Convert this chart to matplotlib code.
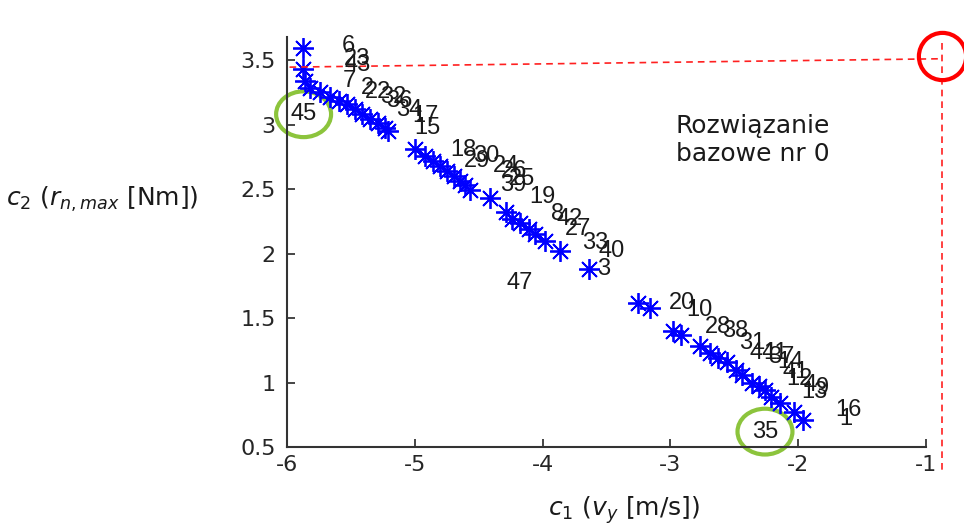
import matplotlib.pyplot as plt
from matplotlib.patches import Ellipse

plt.rcParams['font.family'] = ['DejaVu Sans']
plt.rcParams['mathtext.fontset'] = 'dejavusans'

# solutions (c1, c2)
pts_x = [-5.875, -5.875, -5.86, -5.82, -5.74, -5.66, -5.59, -5.53, -5.47, -5.41,
         -5.35, -5.29, -5.23, -5.21,
         -5.00, -4.92, -4.86, -4.80, -4.75, -4.69, -4.65, -4.61, -4.57, -4.41,
         -4.29, -4.24, -4.18, -4.11, -4.06, -3.98, -3.86, -3.64,
         -3.25, -3.16, -2.98, -2.92, -2.77, -2.69, -2.63, -2.56, -2.49, -2.44,
         -2.36, -2.31, -2.26, -2.21, -2.14, -2.03, -1.96]
pts_y = [3.59, 3.43, 3.34, 3.28, 3.25, 3.21, 3.18, 3.16, 3.12, 3.08,
         3.04, 3.01, 2.97, 2.95,
         2.81, 2.76, 2.72, 2.68, 2.64, 2.60, 2.56, 2.53, 2.49, 2.43,
         2.32, 2.27, 2.24, 2.19, 2.15, 2.10, 2.02, 1.88,
         1.62, 1.58, 1.40, 1.37, 1.28, 1.23, 1.19, 1.16, 1.10, 1.06,
         1.00, 0.97, 0.94, 0.89, 0.84, 0.77, 0.71]

# solution numbers and where they are written
lab_text = ['6', '23', '43', '7', '2', '22', '32', '36', '34', '17', '15',
            '18', '29', '30', '24', '26', '25', '39', '19', '8', '42', '27', '33', '40', '3', '47',
            '20', '10', '28', '38', '31', '44', '11', '37', '14', '41', '12', '4', '9', '13', '16', '1']
lab_x = [-5.52, -5.45, -5.45, -5.51, -5.37, -5.29, -5.17, -5.12, -5.04, -4.92, -4.90,
         -4.62, -4.51, -4.44, -4.29, -4.22, -4.16, -4.23, -4.00, -3.88, -3.79, -3.72, -3.59, -3.46, -3.52, -4.18,
         -2.91, -2.77, -2.63, -2.49, -2.36, -2.28, -2.18, -2.13, -2.06, -2.02, -1.99, -1.91, -1.81, -1.87, -1.61, -1.63]
lab_y = [3.61, 3.51, 3.46, 3.34, 3.28, 3.25, 3.21, 3.18, 3.11, 3.07, 2.97,
         2.80, 2.72, 2.76, 2.68, 2.64, 2.58, 2.53, 2.44, 2.31, 2.27, 2.19, 2.08, 2.02, 1.88, 1.77,
         1.62, 1.56, 1.43, 1.40, 1.31, 1.23, 1.23, 1.20, 1.16, 1.08, 1.03, 0.98, 0.96, 0.93, 0.79, 0.72]

# highlighted solutions
mark_text = ['45', '35']
mark_x = [-5.87, -2.26]
mark_y = [3.08, 0.62]

# ideal point
ideal_x = -0.875
ideal_y = 3.51

fig = plt.figure(figsize=(9.64, 5.26), dpi=100)
ax = fig.add_axes([0.2977, 0.150, 0.6629, 0.7800])

ax.plot(pts_x, pts_y, linestyle='none', marker=(8, 2, 0), markersize=15,
        markeredgewidth=1.3, color='#0000ff')

for t, x, y in zip(lab_text, lab_x, lab_y):
    ax.text(x, y, t, fontsize=17, family='Liberation Sans', ha='center', va='center',
            color='#1a1a1a')

for t, x, y in zip(mark_text, mark_x, mark_y):
    ax.text(x, y, t, fontsize=17, family='Liberation Sans', ha='center', va='center',
            color='#1a1a1a')
    ax.add_patch(Ellipse((x, y), 0.43, 0.355, fill=False, edgecolor='#8cc43c',
                         linewidth=3, clip_on=False))

# dashed guides to the ideal point
ax.plot([-5.98, ideal_x], [3.445, ideal_y], linestyle='--', color='#ff2020',
        linewidth=1.2, dashes=(4, 3), clip_on=False)
ax.plot([ideal_x, ideal_x], [ideal_y + 0.12, 0.32], linestyle='--', color='#ff2020',
        linewidth=1.2, dashes=(4, 3), clip_on=False)
ax.plot([ideal_x], [ideal_y + 0.02], marker='o', markersize=34, markerfacecolor='none',
        markeredgecolor='#ff0000', markeredgewidth=3, clip_on=False)

ax.text(-2.96, 2.88, 'Rozwiązanie\nbazowe nr 0', fontsize=18, ha='left', va='center',
        linespacing=1.2, color='#1a1a1a')

ax.set_xlim(-6, -1)
ax.set_ylim(0.5, 3.68)
ax.set_xticks([-6, -5, -4, -3, -2, -1])
ax.set_yticks([0.5, 1, 1.5, 2, 2.5, 3, 3.5])
ax.set_xticklabels(['-6', '-5', '-4', '-3', '-2', '-1'])
ax.set_yticklabels(['0.5', '1', '1.5', '2', '2.5', '3', '3.5'])
ax.tick_params(direction='in', length=6, width=1.2, labelsize=16, colors='#262626', pad=8)
ax.tick_params(axis='x', pad=6)
ax.spines['top'].set_visible(False)
ax.spines['right'].set_visible(False)
ax.spines['left'].set_linewidth(1.5)
ax.spines['bottom'].set_linewidth(1.5)
ax.spines['left'].set_color('#333333')
ax.spines['bottom'].set_color('#333333')

fig.text(0.106, 0.620, r'$c_2$ ($r_{n,max}$ [Nm])', fontsize=18, ha='center', va='center',
         color='#1a1a1a')
fig.text(0.647, 0.030, r'$c_1$ ($v_y$ [m/s])', fontsize=18, ha='center', va='center',
         color='#1a1a1a')

plt.savefig('out.png', dpi=100)
